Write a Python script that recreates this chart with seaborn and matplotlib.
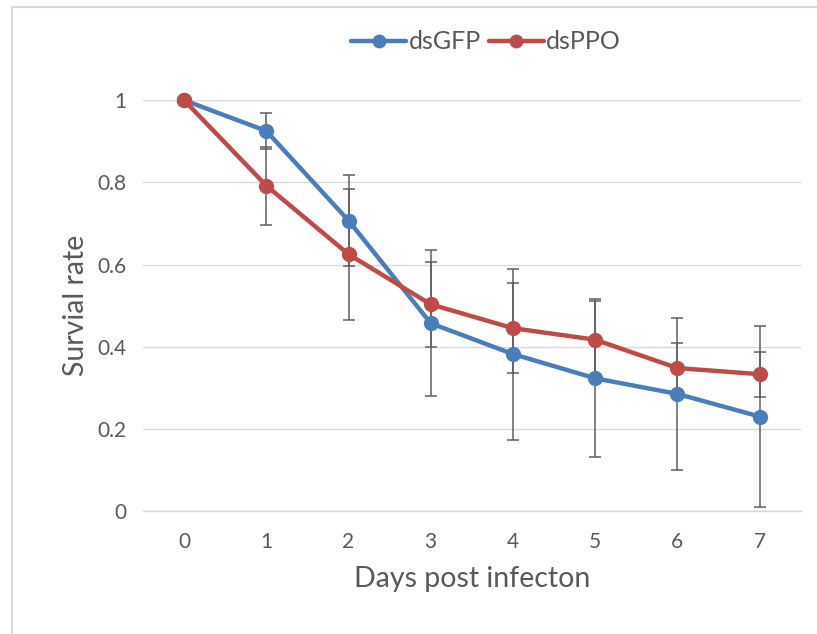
import matplotlib
matplotlib.use("Agg")
import matplotlib.pyplot as plt
import seaborn as sns
import pandas as pd
from matplotlib.lines import Line2D

days = [0, 1, 2, 3, 4, 5, 6, 7]
gfp = [1.0, 0.925, 0.707, 0.457, 0.382, 0.323, 0.285, 0.230]
ppo = [1.0, 0.792, 0.625, 0.503, 0.445, 0.417, 0.348, 0.333]
gfp_err = [0.0, 0.043, 0.111, 0.178, 0.208, 0.192, 0.186, 0.220]
ppo_err = [0.0, 0.095, 0.160, 0.104, 0.109, 0.094, 0.062, 0.055]
series = ["dsGFP", "dsPPO"]
colors = ["#4A7EBB", "#BE4B48"]

sns.set_style("white")
plt.rcParams["font.family"] = ["Lato", "DejaVu Sans"]

df = pd.DataFrame({
    "day": days * 2,
    "rate": gfp + ppo,
    "group": [series[0]] * len(days) + [series[1]] * len(days),
})

fig = plt.figure(figsize=(8.17, 6.34), dpi=100)
ax = fig.add_axes([0.175, 0.194, 0.805, 0.648])

# error bars behind
for vals, errs in [(gfp, gfp_err), (ppo, ppo_err)]:
    ax.errorbar(days, vals, yerr=errs, fmt="none", ecolor="#5F5F5F",
                elinewidth=1.1, capsize=4.5, capthick=1.1, zorder=2)

sns.lineplot(data=df, x="day", y="rate", hue="group", palette=colors,
             marker="o", markersize=11, markeredgewidth=0, linewidth=3.2,
             ax=ax, zorder=3, legend=False)
for ln in ax.lines:
    ln.set_clip_on(False)

ax.set_xlim(-0.5, 7.5)
ax.set_ylim(0, 1.0)
ax.set_xticks(days)
ax.set_xticklabels([str(d) for d in days])
ax.set_yticks([0, 0.2, 0.4, 0.6, 0.8, 1.0])
ax.set_yticklabels(["0", "0.2", "0.4", "0.6", "0.8", "1"])
ax.tick_params(axis="both", length=0, labelsize=15, colors="#595959")
ax.tick_params(axis="y", pad=12)
ax.tick_params(axis="x", pad=15)
ax.grid(axis="y", color="#D9D9D9", linewidth=1.0)
ax.set_axisbelow(True)
for s in ["top", "right", "left"]:
    ax.spines[s].set_visible(False)
ax.spines["bottom"].set_color("#D9D9D9")
ax.spines["bottom"].set_linewidth(1.0)

ax.set_xlabel("Days post infecton", fontsize=20.5, color="#595959", labelpad=10)
ax.set_ylabel("Survial rate", fontsize=20.5, color="#595959", labelpad=6)

handles = [Line2D([0], [0], color=c, marker="o", markersize=10, linewidth=3.2,
                  markeredgewidth=0) for c in colors]
fig.legend(handles, series, loc="center", bbox_to_anchor=(0.595, 0.934), ncol=2,
           frameon=False, fontsize=18, labelcolor="#595959", handlelength=2.2,
           handletextpad=0.1, columnspacing=0.3)

# outer frame
fig.add_artist(Line2D([11.5 / 817, 11.5 / 817], [0, 1 - 6.5 / 634], transform=fig.transFigure,
                      color="#D9D9D9", linewidth=1.5))
fig.add_artist(Line2D([11.5 / 817, 1], [1 - 6.5 / 634, 1 - 6.5 / 634], transform=fig.transFigure,
                      color="#D9D9D9", linewidth=1.5))

fig.savefig("out.png", dpi=100)
